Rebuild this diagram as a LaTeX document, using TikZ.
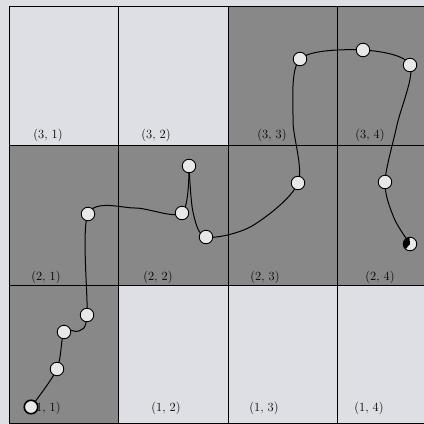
\documentclass[tikz,border=0pt]{standalone}
\definecolor{lightc}{RGB}{222,223,228}
\definecolor{darkc}{RGB}{136,136,136}
\definecolor{dotc}{RGB}{232,232,232}
\tikzset{
  gridline/.style={draw=black, line width=0.8pt},
  pt/.style={circle, draw=black, line width=0.9pt, fill=dotc, minimum size=13.5pt, inner sep=0pt},
  celllab/.style={font=\fontsize{12.5}{14}\selectfont, inner sep=0pt},
  trail/.style={draw=black, line width=1pt},
}
\begin{document}
\begin{tikzpicture}[x=1pt,y=-1pt]
\useasboundingbox (0,0) rectangle (424,424);
\fill[lightc] (0,0) rectangle (424,424);
% dark cells
\fill[darkc] (228,6) rectangle (424,145);
\fill[darkc] (9,145) rectangle (424,285);
\fill[darkc] (9,285) rectangle (118,423);
% grid
\foreach \yy in {6,145,285,423} \draw[gridline] (9,\yy) -- (424,\yy);
\foreach \xx in {9,118,228,337} \draw[gridline] (\xx,6) -- (\xx,423);
% labels
\node[celllab] (l31) at (48,135) {(3, 1)};
\node[celllab] (l32) at (156,135) {(3, 2)};
\node[celllab] (l33) at (272,135) {(3, 3)};
\node[celllab] (l34) at (370,135) {(3, 4)};
\node[celllab] (l21) at (46,277) {(2, 1)};
\node[celllab] (l22) at (158,277) {(2, 2)};
\node[celllab] (l23) at (265,277) {(2, 3)};
\node[celllab] (l24) at (380,277) {(2, 4)};
\node[celllab] (l11) at (46,408) {(1, 1)};
\node[celllab] (l12) at (166,408) {(1, 2)};
\node[celllab] (l13) at (264,408) {(1, 3)};
\node[celllab] (l14) at (369,408) {(1, 4)};
% path points
\coordinate (p1) at (31,407);
\coordinate (p2) at (57,369);
\coordinate (p3) at (64,332);
\coordinate (c1) at (79,331);
\coordinate (p4) at (87,315);
\coordinate (p5) at (88,214);
\coordinate (c2) at (135,208);
\coordinate (p6) at (182,213);
\coordinate (p7) at (189,166);
\coordinate (c3) at (193,212);
\coordinate (p8) at (206,237);
\coordinate (c4) at (252,226);
\coordinate (p9) at (298,183);
\coordinate (c5) at (293,120);
\coordinate (p10) at (300,59);
\coordinate (p11) at (363,50);
\coordinate (p12) at (410,65);
\coordinate (c6) at (397,125);
\coordinate (p13) at (385,182);
\coordinate (c7) at (394,218);
\coordinate (p14) at (410,244);
\draw[trail] plot[smooth, tension=0.5] coordinates {(p1) (p2) (p3) (c1) (p4) (p5) (c2) (p6) (p7)};
\draw[trail] plot[smooth, tension=0.5] coordinates {(p7) (c3) (p8) (c4) (p9) (c5) (p10) (p11) (p12) (c6) (p13) (c7) (p14)};
% circles
\foreach \p in {p2,p3,p4,p5,p6,p7,p8,p9,p10,p11,p12,p13}
  \node[pt] (n\p) at (\p) {};
\node[pt, line width=1.6pt] (np1) at (p1) {};
\node[pt] (np14) at (p14) {};
\fill[black] (p14) -- ++(95:6.5pt) arc[start angle=95, end angle=230, radius=6.5pt] -- cycle;
\end{tikzpicture}
\end{document}
